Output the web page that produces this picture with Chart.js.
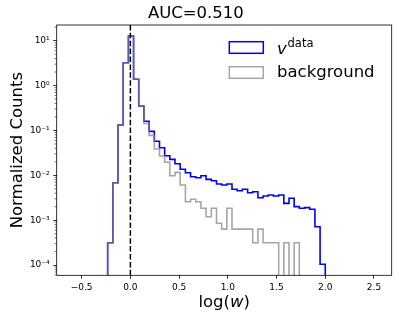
<!DOCTYPE html>
<html><head><meta charset="utf-8">
<script src="https://cdn.jsdelivr.net/npm/chart.js@4"></script>
<style>html,body{margin:0;padding:0;background:#fff;}#wrap{width:399px;height:319px;}</style>
</head><body><div id="wrap"><canvas id="c" width="399" height="319"></canvas></div>
<script>
// ---- data ----
const binEdges = [-0.233,-0.180,-0.127,-0.074,-0.020,0.033,0.086,0.139,0.192,0.246,0.299,0.352,0.405,0.458,0.511,0.565,0.618,0.671,0.724,0.777,0.831,0.884,0.937,0.990,1.043,1.096,1.149,1.203,1.256,1.309,1.362,1.415,1.468,1.522,1.575,1.628,1.681,1.734,1.787,1.841,1.894,1.947,2.000];
const vData = [3.14e-4,6.84e-3,0.132,3.23,12.7,1.38,0.350,0.160,0.0955,0.0572,0.0410,0.0272,0.0227,0.0181,0.0136,0.0114,0.00929,0.00883,0.00979,0.00813,0.00757,0.00640,0.00607,0.00640,0.00487,0.00453,0.00487,0.00409,0.00430,0.00315,0.00345,0.00363,0.00345,0.00363,0.00237,0.00307,0.00200,0.00184,0.00190,0.00175,7.14e-4,1.04e-4];
const background = [3.14e-4,6.84e-3,0.132,3.23,12.7,1.38,0.350,0.143,0.0778,0.0385,0.0269,0.0195,0.00979,0.0116,0.00607,0.00258,0.00292,0.00258,0.00184,0.00119,0.00184,8.5e-4,6.3e-4,0.00184,6.3e-4,6.3e-4,6.3e-4,6.3e-4,3.14e-4,6.3e-4,3.14e-4,3.14e-4,3.14e-4,0,3.14e-4,0,3.14e-4,0,0,0,0,0];
const cutValue = 0;
const xTickValues = [-0.5,0,0.5,1,1.5,2,2.5];
const xTickLabels = ['\u22120.5','0.0','0.5','1.0','1.5','2.0','2.5'];
const yTickValues = [1e-4,1e-3,1e-2,1e-1,1,10];
const yTickLabels = ['10\u207B\u2074','10\u207B\u00B3','10\u207B\u00B2','10\u207B\u00B9','10\u2070','10\u00B9'];
const titleText = 'AUC=0.510';
const yLabel = 'Normalized Counts';
const legendLabels = ['data','background'];

// ---- build ----
const FONT = 'DejaVu Sans';
Chart.defaults.font.family = FONT;
Chart.defaults.color = '#000';
const X_MIN = -0.756, X_MAX = 2.682, Y_MIN = 5.9e-5, Y_MAX = 22.4;
const BLUE = '#0000ff', GRAY = 'rgba(128,128,128,0.7)';

function histPoints(edges, counts) {
  const floor = Y_MIN * 1e-3;
  const pts = [{x: edges[0], y: floor}];
  counts.forEach((c, i) => pts.push({x: edges[i], y: c > 0 ? c : floor}));
  pts.push({x: edges[edges.length - 1], y: floor});
  return pts;
}

const yTicks = [];
for (let d = -5; d <= 1; d++) {
  for (let m = 1; m <= 9; m++) {
    const v = m * Math.pow(10, d);
    if (v >= Y_MIN && v <= Y_MAX) yTicks.push({value: v, major: m === 1});
  }
}

const overlay = {
  id: 'overlay',
  afterDraw(chart) {
    const ctx = chart.ctx, a = chart.chartArea;
    ctx.save();
    // minor y ticks
    const ys = chart.scales.y;
    ctx.strokeStyle = '#000'; ctx.lineWidth = 0.6;
    ys.ticks.forEach(t => {
      if (t.major) return;
      const p = ys.getPixelForValue(t.value);
      ctx.beginPath(); ctx.moveTo(a.left - 2, p); ctx.lineTo(a.left, p); ctx.stroke();
    });
    // spines
    ctx.lineWidth = 0.8;
    ctx.strokeRect(a.left, a.top, a.right - a.left, a.bottom - a.top);
    // x label: log(w) with italic w
    ctx.fillStyle = '#000';
    ctx.textBaseline = 'alphabetic';
    const nf = '16.5px ' + FONT, itf = 'italic 16.5px ' + FONT;
    const parts = [['log(', nf], ['w', itf], [')', nf]];
    let tw = 0;
    parts.forEach(p => { ctx.font = p[1]; tw += ctx.measureText(p[0]).width; });
    let x = (a.left + a.right) / 2 - tw / 2;
    parts.forEach(p => { ctx.font = p[1]; ctx.fillText(p[0], x, 307); x += ctx.measureText(p[0]).width; });
    // legend
    ctx.lineWidth = 1.5;
    ctx.strokeStyle = BLUE;
    ctx.strokeRect(229.3, 41.7, 34, 11.6);
    ctx.strokeStyle = GRAY;
    ctx.strokeRect(229.3, 66.7, 34, 11.6);
    ctx.font = itf;
    ctx.fillText('v', 277, 54);
    const vw = ctx.measureText('v').width;
    ctx.font = '11.5px ' + FONT;
    ctx.fillText(legendLabels[0], 277 + vw + 0.8, 47.3);
    ctx.font = nf;
    ctx.fillText(legendLabels[1], 277, 76.7);
    ctx.restore();
  }
};

new Chart(document.getElementById('c'), {
  type: 'line',
  data: {
    datasets: [
      {data: [{x: cutValue, y: Y_MIN}, {x: cutValue, y: Y_MAX}], borderColor: '#000', borderWidth: 1.5, borderDash: [5.5, 2.4], pointRadius: 0, fill: false, order: 0},
      {data: histPoints(binEdges, background), borderColor: GRAY, borderWidth: 1.6, stepped: true, pointRadius: 0, fill: false, order: 1, borderJoinStyle: 'miter'},
      {data: histPoints(binEdges, vData), borderColor: BLUE, borderWidth: 1.6, stepped: true, pointRadius: 0, fill: false, order: 2, borderJoinStyle: 'miter'}
    ]
  },
  options: {
    responsive: false, animation: false, devicePixelRatio: 1, events: [],
    layout: {padding: {left: 0, right: 7.3, top: 0, bottom: 0}},
    plugins: {
      legend: {display: false}, tooltip: {enabled: false},
      title: {display: true, text: titleText, color: '#000', font: {size: 16.5, weight: 'normal', family: FONT}, padding: {top: 4, bottom: 1.2}}
    },
    scales: {
      x: {
        type: 'linear', min: X_MIN, max: X_MAX, bounds: 'data',
        afterFit: s => { s.height = 43.7; },
        afterBuildTicks: s => { s.ticks = xTickValues.map(v => ({value: v, major: true})); },
        ticks: {autoSkip: false, maxRotation: 0, padding: 3.5, color: '#000', font: {size: 9},
          callback: v => { const i = xTickValues.indexOf(v); return i >= 0 ? xTickLabels[i] : ''; }},
        grid: {drawOnChartArea: false, drawTicks: true, tickLength: 3.5, tickWidth: 0.8, tickColor: '#000'},
        border: {display: false}
      },
      y: {
        type: 'logarithmic', min: Y_MIN, max: Y_MAX, bounds: 'data',
        afterFit: s => { s.width = 56.7; },
        afterBuildTicks: s => { s.ticks = yTicks.map(t => ({value: t.value, major: t.major})); },
        ticks: {autoSkip: false, padding: 3.5, color: '#000', font: {size: 9},
          callback: v => { const i = yTickValues.findIndex(t => Math.abs(t - v) / t < 1e-6); return i >= 0 ? yTickLabels[i] : ''; }},
        grid: {drawOnChartArea: false, drawTicks: true, tickLength: 3.5, tickWidth: 0.8,
          tickColor: c => (c.tick && c.tick.major) ? '#000' : 'rgba(0,0,0,0)'},
        border: {display: false},
        title: {display: true, text: yLabel, color: '#000', font: {size: 16.5, family: FONT}, padding: {top: 7.4, bottom: 0}}
      }
    }
  },
  plugins: [overlay]
});
</script></body></html>
